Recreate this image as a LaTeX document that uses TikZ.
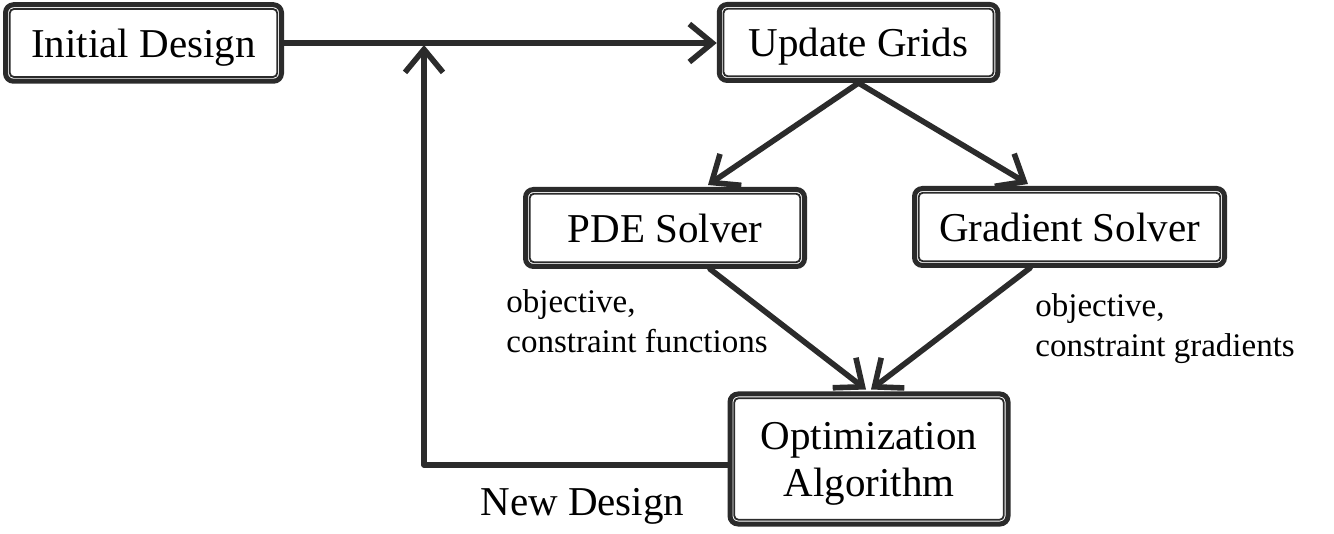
\documentclass[tikz,border=0pt]{standalone}
\usepackage{fontspec}
\setmainfont{Liberation Serif}
\usetikzlibrary{arrows.meta,calc}
\definecolor{ink}{HTML}{2B2B2B}
\tikzset{
  box/.style={draw=ink, line width=2.5pt, rounded corners=4pt, fill=white,
    inner sep=0pt, font=\fontsize{20.5}{23}\selectfont, align=center, text depth=0pt},
  innerln/.style={draw=ink, line width=0.9pt, rounded corners=2pt},
  arr/.style={draw=ink, line width=2.8pt, line cap=round, line join=round,
    -{Straight Barb[length=11.5pt,width=19pt]}},
  lbl/.style={inner sep=0pt, font=\fontsize{16.5}{20}\selectfont, align=left},
  biglbl/.style={inner sep=0pt, font=\fontsize{20.5}{23}\selectfont},
}
\begin{document}
\begin{tikzpicture}[x=0.5pt,y=-0.5pt]
\useasboundingbox (0,0) rectangle (1334,534);
% boxes
\node[box, minimum width=138pt, minimum height=38.25pt] (init) at (143.5,43) {Initial Design};
\node[box, minimum width=139.25pt, minimum height=38pt] (ug) at (858.5,42.5) {Update Grids};
\node[box, minimum width=139.5pt, minimum height=38.5pt] (pde) at (665,228) {PDE Solver};
\node[box, minimum width=155pt, minimum height=38.5pt] (grad) at (1069.5,227) {Gradient Solver};
\node[box, minimum width=139pt, minimum height=65pt] (opt) at (869,459) {Optimization\\[0.5pt]Algorithm};
\foreach \n in {init,ug,pde,grad,opt}
  \draw[innerln] ([shift={(3.4pt,-3.4pt)}]\n.north west) rectangle ([shift={(-3.4pt,3.4pt)}]\n.south east);
% labels
\node[lbl, anchor=base west] (l1) at (506,352) {objective,\\constraint functions};
\node[lbl, anchor=base west] (l2) at (1035,357) {objective,\\constraint gradients};
\node[biglbl, anchor=base west] (nd) at (480,515) {New Design};
% connectors
\coordinate (loopc) at (424,465);
\coordinate (join) at (424,45);
\draw[arr] (init.east) -- (init.east -| ug.west);
\draw[arr] (ug.south) -- ([yshift=1pt]pde.north -| 708,0);
\draw[arr] (ug.south) -- ([yshift=1pt]grad.north -| 1028,0);
\draw[arr] (pde.south -| 710,0) -- ([yshift=1pt]opt.north -| 866,0);
\draw[arr] (grad.south -| 1030,0) -- ([yshift=1pt]opt.north -| 871,0);
\draw[arr] (opt.west |- loopc) -- (loopc) -- (join);
\end{tikzpicture}
\end{document}
